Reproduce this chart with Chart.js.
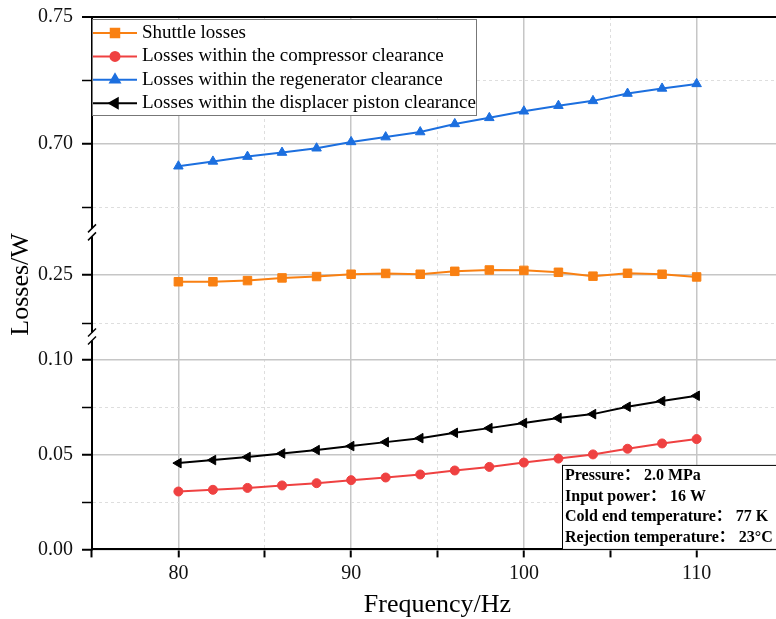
<!DOCTYPE html>
<html lang="zh-CN">
<head>
<meta charset="utf-8">
<title>Losses vs frequency</title>
<script src="https://cdn.jsdelivr.net/npm/chart.js@4.4.1/dist/chart.umd.min.js"></script>
<style>
  html, body { margin: 0; padding: 0; background: #fff; overflow: hidden; }
  #wrap { width: 790px; height: 619px; }
</style>
</head>
<body>
<div id="wrap"><canvas id="chartCanvas" width="790" height="619"></canvas></div>
<script>
  // data
  var freq = [80, 82, 84, 86, 88, 90, 92, 94, 96, 98, 100, 102, 104, 106, 108, 110];
  var shuttle = [0.2464, 0.2464, 0.2470, 0.2484, 0.2491, 0.2503, 0.2507, 0.2503, 0.2518, 0.2525, 0.2523, 0.2513, 0.2493, 0.2508, 0.2503, 0.2489];
  var compressor = [0.0306, 0.0315, 0.0325, 0.0338, 0.0350, 0.0366, 0.0380, 0.0396, 0.0417, 0.0436, 0.0459, 0.0480, 0.0502, 0.0532, 0.0560, 0.0583];
  var regenerator = [0.6911, 0.6930, 0.6949, 0.6965, 0.6982, 0.7007, 0.7026, 0.7046, 0.7078, 0.7102, 0.7128, 0.7150, 0.7169, 0.7198, 0.7218, 0.7236];
  var displacer = [0.0456, 0.0472, 0.0488, 0.0507, 0.0525, 0.0546, 0.0567, 0.0588, 0.0616, 0.0641, 0.0668, 0.0694, 0.0715, 0.0754, 0.0784, 0.0812];

  var seriesNames = ['Shuttle losses', 'Losses within the compressor clearance',
    'Losses within the regenerator clearance', 'Losses within the displacer piston clearance'];

  // axis ticks (broken y axis: three segments)
  var xTicks = [75, 80, 85, 90, 95, 100, 105, 110, 115];
  var xLabelled = [80, 90, 100, 110];
  var yLowTicks = [0, 0.025, 0.05, 0.075, 0.1];
  var yMidTicks = [0.225, 0.25];
  var yTopTicks = [0.675, 0.7, 0.725, 0.75];
  var yLabelled = [0, 0.05, 0.1, 0.25, 0.7, 0.75];
  var yLowRange = [0, 0.1125];
  var yMidRange = [0.218, 0.272];
  var yTopRange = [0.665, 0.75];

  var notes = ['Pressure\uFF1A 2.0 MPa', 'Input power\uFF1A 16 W',
    'Cold end temperature\uFF1A 77 K', 'Rejection temperature\uFF1A 23\u00B0C'];

  (function() {
    'use strict';

    var SERIF = "'Liberation Serif', 'Times New Roman', 'Noto Sans CJK SC', serif";
    var MAJOR_GRID = '#c6c6c6';
    var MINOR_GRID = '#dedede';

    function toPoints(ys) {
      return freq.map(function(f, i) { return { x: f, y: ys[i] }; });
    }

    function isLabelled(list, v) {
      return list.some(function(t) { return Math.abs(t - v) < 1e-9; });
    }

    function yTickAxis(range, ticks, weight, withTitle) {
      return {
        type: 'linear',
        position: 'left',
        stack: 'broken',
        stackWeight: weight,
        min: range[0],
        max: range[1],
        afterBuildTicks: function(axis) {
          axis.ticks = ticks.map(function(v) { return { value: v }; });
        },
        ticks: {
          padding: 9,
          color: '#111',
          font: { family: SERIF, size: 20, lineHeight: 0.8 },
          callback: function(v) { return isLabelled(yLabelled, v) ? v.toFixed(2) : ''; }
        },
        grid: {
          color: function(c) {
            if (!c.tick) return MAJOR_GRID;
            if (Math.abs(c.tick.value - 0.75) < 1e-9) return '#000';
            return isLabelled(yLabelled, c.tick.value) ? MAJOR_GRID : MINOR_GRID;
          },
          lineWidth: function(c) {
            if (c.tick && Math.abs(c.tick.value - 0.75) < 1e-9) return 2;
            return (c.tick && isLabelled(yLabelled, c.tick.value)) ? 1.5 : 1;
          },
          tickLength: 10,
          tickColor: '#000',
          tickWidth: function(c) { return (c.tick && isLabelled(yLabelled, c.tick.value)) ? 2 : 1.5; }
        },
        border: {
          color: '#000',
          width: 2,
          dash: function(c) {
            return (c.tick && !isLabelled(yLabelled, c.tick.value)) ? [3, 3] : [];
          }
        },
        title: {
          display: !!withTitle,
          text: 'Losses/W',
          color: '#000',
          font: { family: SERIF, size: 26, lineHeight: 1 },
          padding: { top: 7, bottom: -5 }
        }
      };
    }

    // slash marks where the y axis is broken
    var breakMarks = {
      id: 'breakMarks',
      afterDraw: function(chart) {
        var ctx = chart.ctx;
        var x = chart.chartArea.left;
        var ys = [chart.scales.yTop.bottom, chart.scales.yMid.bottom];
        ctx.save();
        ys.forEach(function(y) {
          ctx.fillStyle = '#fff';
          ctx.fillRect(x - 3, y - 4, 6, 8);
          ctx.strokeStyle = '#000';
          ctx.lineWidth = 1.5;
          [-4, 4].forEach(function(d) {
            ctx.beginPath();
            ctx.moveTo(x - 4, y + d + 4);
            ctx.lineTo(x + 4, y + d - 4);
            ctx.stroke();
          });
        });
        ctx.restore();
      }
    };

    // boxed legend inside the plot, top left
    var boxLegend = {
      id: 'boxLegend',
      afterDatasetsDraw: function(chart) {
        var ctx = chart.ctx;
        var area = chart.chartArea;
        var left = area.left, top = area.top + 2;
        var rowH = 23.4;
        ctx.save();
        ctx.fillStyle = '#fff';
        ctx.fillRect(left, top, 384, 96);
        ctx.strokeStyle = '#777';
        ctx.lineWidth = 1;
        ctx.strokeRect(left + 0.5, top + 0.5, 384, 96);
        chart.data.datasets.forEach(function(ds, i) {
          var y = top + 14 + i * rowH;
          ctx.strokeStyle = ds.borderColor;
          ctx.lineWidth = 2;
          ctx.beginPath();
          ctx.moveTo(left + 1, y);
          ctx.lineTo(left + 45, y);
          ctx.stroke();
          ctx.fillStyle = ds.pointBackgroundColor;
          ctx.strokeStyle = ds.pointBorderColor;
          Chart.helpers.drawPoint(ctx, {
            pointStyle: ds.pointStyle,
            rotation: ds.pointRotation || 0,
            radius: ds.pointRadius,
            borderWidth: 1
          }, left + 23, y);
          ctx.fillStyle = '#000';
          ctx.font = '19px ' + SERIF;
          ctx.textBaseline = 'middle';
          ctx.textAlign = 'left';
          ctx.fillText(ds.label, left + 50, y);
        });
        ctx.restore();
      }
    };

    // condition note, bottom right
    var noteBox = {
      id: 'noteBox',
      afterDatasetsDraw: function(chart) {
        var ctx = chart.ctx;
        var area = chart.chartArea;
        var left = area.right - 221, top = area.bottom - 84.5;
        ctx.save();
        ctx.fillStyle = '#fff';
        ctx.fillRect(left, top, 240, 84.5);
        ctx.strokeStyle = '#000';
        ctx.lineWidth = 1;
        ctx.strokeRect(left + 0.5, top + 0.5, 240, 84);
        ctx.fillStyle = '#000';
        ctx.font = 'bold 16px ' + SERIF;
        ctx.textBaseline = 'middle';
        notes.forEach(function(t, i) {
          ctx.fillText(t, left + 3, top + 11 + i * 20.5);
        });
        ctx.restore();
      }
    };

    function init() {
      var ctx = document.getElementById('chartCanvas').getContext('2d');
      new Chart(ctx, {
        type: 'line',
        data: {
          datasets: [{
            label: seriesNames[0],
            data: toPoints(shuttle),
            yAxisID: 'yMid',
            borderColor: '#F98012',
            pointBackgroundColor: '#F98012',
            pointBorderColor: '#F98012',
            pointStyle: 'rect',
            pointRadius: 6
          }, {
            label: seriesNames[1],
            data: toPoints(compressor),
            yAxisID: 'yLow',
            borderColor: '#EF4141',
            pointBackgroundColor: '#EF4141',
            pointBorderColor: '#EF4141',
            pointStyle: 'circle',
            pointRadius: 4.5
          }, {
            label: seriesNames[2],
            data: toPoints(regenerator),
            yAxisID: 'yTop',
            borderColor: '#1C6FDF',
            pointBackgroundColor: '#1C6FDF',
            pointBorderColor: '#1C6FDF',
            pointStyle: 'triangle',
            pointRadius: 5.5
          }, {
            label: seriesNames[3],
            data: toPoints(displacer),
            yAxisID: 'yLow',
            borderColor: '#000',
            pointBackgroundColor: '#000',
            pointBorderColor: '#000',
            pointStyle: 'triangle',
            pointRotation: -90,
            pointRadius: 5.5
          }]
        },
        options: {
          responsive: false,
          animation: false,
          devicePixelRatio: 1,
          layout: { padding: { top: 17, right: 5, left: 1, bottom: 0 } },
          elements: {
            line: { borderWidth: 2, tension: 0 },
            point: { borderWidth: 1 }
          },
          plugins: {
            legend: { display: false },
            tooltip: { enabled: false }
          },
          scales: {
            x: {
              type: 'linear',
              min: 75,
              max: 115,
              afterBuildTicks: function(axis) {
                axis.ticks = xTicks.map(function(v) { return { value: v }; });
              },
              ticks: {
                autoSkip: false,
                maxRotation: 0,
                padding: 4.5,
                color: '#111',
                font: { family: SERIF, size: 20 },
                callback: function(v) { return isLabelled(xLabelled, v) ? String(v) : ''; }
              },
              grid: {
                color: function(c) {
                  return (c.tick && isLabelled(xLabelled, c.tick.value)) ? MAJOR_GRID : MINOR_GRID;
                },
                lineWidth: function(c) {
                  return (c.tick && isLabelled(xLabelled, c.tick.value)) ? 1.5 : 1;
                },
                tickLength: 8,
                tickColor: '#000',
                tickWidth: 2
              },
              border: {
                color: '#000',
                width: 2,
                dash: function(c) {
                  return (c.tick && !isLabelled(xLabelled, c.tick.value)) ? [3, 3] : [];
                }
              },
              title: {
                display: true,
                text: 'Frequency/Hz',
                color: '#000',
                font: { family: SERIF, size: 26, lineHeight: 1.1 },
                padding: { top: 0, bottom: 0 }
              }
            },
            yLow: yTickAxis(yLowRange, yLowTicks, 212.5, false),
            yMid: yTickAxis(yMidRange, yMidTicks, 104, true),
            yTop: yTickAxis(yTopRange, yTopTicks, 215, false)
          }
        },
        plugins: [boxLegend, noteBox, breakMarks]
      });
    }

    document.addEventListener('DOMContentLoaded', init);
  })();
</script>
</body>
</html>
